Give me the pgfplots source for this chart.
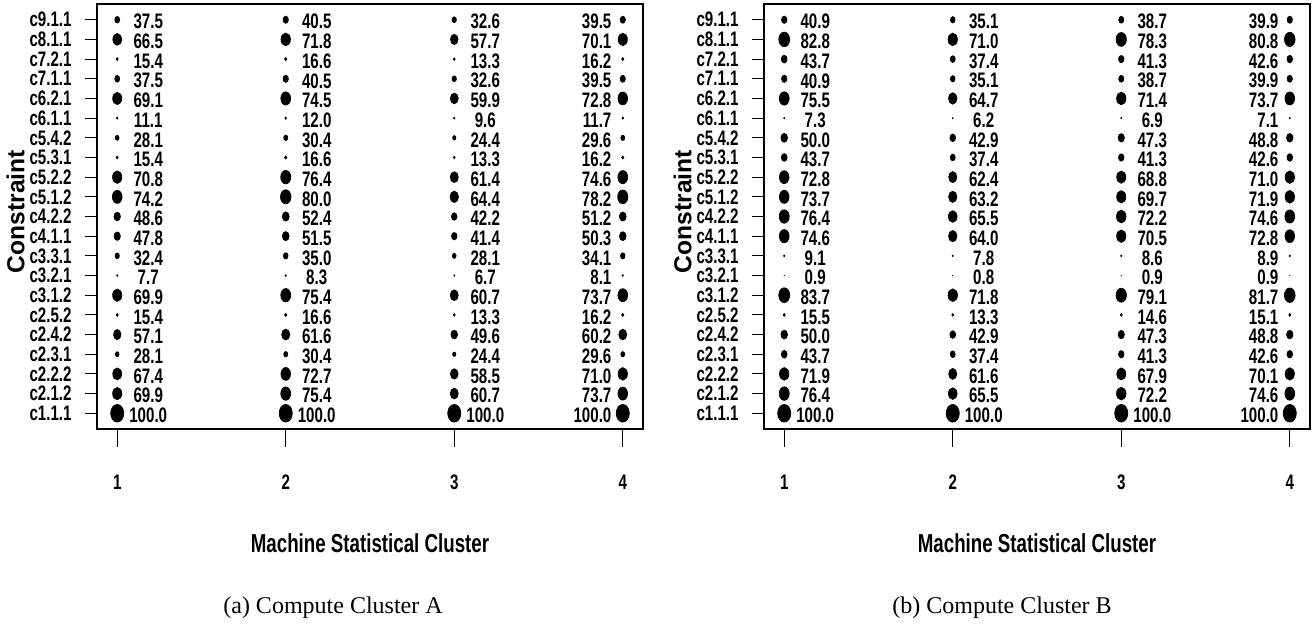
\documentclass[border=0pt]{standalone}
\usepackage{pgfplots}
\pgfplotsset{compat=1.18}
\usepackage{pgfplotstable}
\usepackage{fontspec}
\setmainfont{Liberation Serif}
\newfontfamily\condsans{Liberation Sans}[FakeStretch=0.72]
\newfontfamily\plainsans{Liberation Sans}
\newcommand\lab{\condsans\bfseries\fontsize{10.5}{12}\selectfont}
\newcommand\axlab{\condsans\bfseries\fontsize{13}{15}\selectfont}
\newcommand\ylab{\plainsans\bfseries\fontsize{12.3}{15}\selectfont}

\pgfplotstableread{
y a b c d
21 37.5 40.5 32.6 39.5
20 66.5 71.8 57.7 70.1
19 15.4 16.6 13.3 16.2
18 37.5 40.5 32.6 39.5
17 69.1 74.5 59.9 72.8
16 11.1 12.0 9.6 11.7
15 28.1 30.4 24.4 29.6
14 15.4 16.6 13.3 16.2
13 70.8 76.4 61.4 74.6
12 74.2 80.0 64.4 78.2
11 48.6 52.4 42.2 51.2
10 47.8 51.5 41.4 50.3
9 32.4 35.0 28.1 34.1
8 7.7 8.3 6.7 8.1
7 69.9 75.4 60.7 73.7
6 15.4 16.6 13.3 16.2
5 57.1 61.6 49.6 60.2
4 28.1 30.4 24.4 29.6
3 67.4 72.7 58.5 71.0
2 69.9 75.4 60.7 73.7
1 100.0 100.0 100.0 100.0
}\dataA

\pgfplotstableread{
y a b c d
21 40.9 35.1 38.7 39.9
20 82.8 71.0 78.3 80.8
19 43.7 37.4 41.3 42.6
18 40.9 35.1 38.7 39.9
17 75.5 64.7 71.4 73.7
16 7.3 6.2 6.9 7.1
15 50.0 42.9 47.3 48.8
14 43.7 37.4 41.3 42.6
13 72.8 62.4 68.8 71.0
12 73.7 63.2 69.7 71.9
11 76.4 65.5 72.2 74.6
10 74.6 64.0 70.5 72.8
9 9.1 7.8 8.6 8.9
8 0.9 0.8 0.9 0.9
7 83.7 71.8 79.1 81.7
6 15.5 13.3 14.6 15.1
5 50.0 42.9 47.3 48.8
4 43.7 37.4 41.3 42.6
3 71.9 61.6 67.9 70.1
2 76.4 65.5 72.2 74.6
1 100.0 100.0 100.0 100.0
}\dataB

\pgfplotsset{
  panel/.style={
    scale only axis, width=273pt, height=212.5pt,
    xmin=0.88, xmax=4.12, ymin=0.2, ymax=21.8,
    clip=false,
    xtick={1,2,3,4}, xticklabels={1,2,3,4},
    ytick={1,...,21},
    yticklabels={c1.1.1,c2.1.2,c2.2.2,c2.3.1,c2.4.2,c2.5.2,c3.1.2,c3.2.1,c3.3.1,c4.1.1,c4.2.2,c5.1.2,c5.2.2,c5.3.1,c5.4.2,c6.1.1,c6.2.1,c7.1.1,c7.2.1,c8.1.1,c9.1.1},
    xtick pos=bottom, ytick pos=left,
    tick align=outside, major tick length=6pt,
    xtick style={/pgfplots/major tick length=9pt},
    tick style={line width=0.5pt, black},
    axis line style={line width=0.9pt},
    ticklabel style={font=\lab},
    yticklabel style={anchor=east, inner sep=0pt, xshift=-6.5pt},
    xticklabel style={anchor=center, inner sep=0pt, yshift=-20.5pt},
    xlabel={Machine Statistical Cluster},
    ylabel={Constraint},
    x label style={at={(axis description cs:0.5,0)}, anchor=center, yshift=-57pt, font=\axlab},
    y label style={at={(axis description cs:0,0.5)}, rotate=0, anchor=center, yshift=40.75pt, xshift=2.5pt, font=\ylab},
  },
  bub/.style={scatter, only marks, mark=*, black,
    scatter/@pre marker code/.code={\pgfmathsetmacro\ms{0.044*\val}\scope[mark size=\ms pt]},
    scatter/@post marker code/.code={\endscope},
    mark options={fill=black, draw=none, xscale=0.74},
  },
  txt/.style={only marks, mark=none, black,
    nodes near coords={\pgfmathprintnumber[fixed,fixed zerofill,precision=1,assume math mode=true]{\val}},
  },
  labR/.style={every node near coord/.append style={font=\lab, anchor=center, inner sep=0pt, xshift=15.5pt, yshift=-1pt}},
  labL/.style={every node near coord/.append style={font=\lab, anchor=east, inner sep=0pt, xshift=-5.5pt, yshift=-1pt}},
}

\newcommand{\col}[4]{%
  \addplot[bub, visualization depends on={\thisrow{#2} \as \val}, point meta=\thisrow{#2}]
    table[x expr=#3, y=y] {#1};
  \addplot[txt, #4, visualization depends on={\thisrow{#2} \as \val}, point meta=\thisrow{#2}]
    table[x expr=#3, y=y] {#1};
}

\begin{document}
\begin{tikzpicture}
\path[use as bounding box] (0,0) rectangle (656pt,-311.5pt);

\begin{axis}[panel, at={(48.5pt,-2pt)}, anchor=north west]
\col{\dataA}{a}{1}{labR}
\col{\dataA}{b}{2}{labR}
\col{\dataA}{c}{3}{labR}
\col{\dataA}{d}{4}{labL}
\end{axis}

\begin{axis}[panel, at={(382pt,-2pt)}, anchor=north west]
\col{\dataB}{a}{1}{labR}
\col{\dataB}{b}{2}{labR}
\col{\dataB}{c}{3}{labR}
\col{\dataB}{d}{4}{labL}
\end{axis}

\node[font=\fontsize{12}{14}\selectfont] at (166.5pt,-304pt) {(a) Compute Cluster A};
\node[font=\fontsize{12}{14}\selectfont] at (501pt,-304pt) {(b) Compute Cluster B};
\end{tikzpicture}
\end{document}
